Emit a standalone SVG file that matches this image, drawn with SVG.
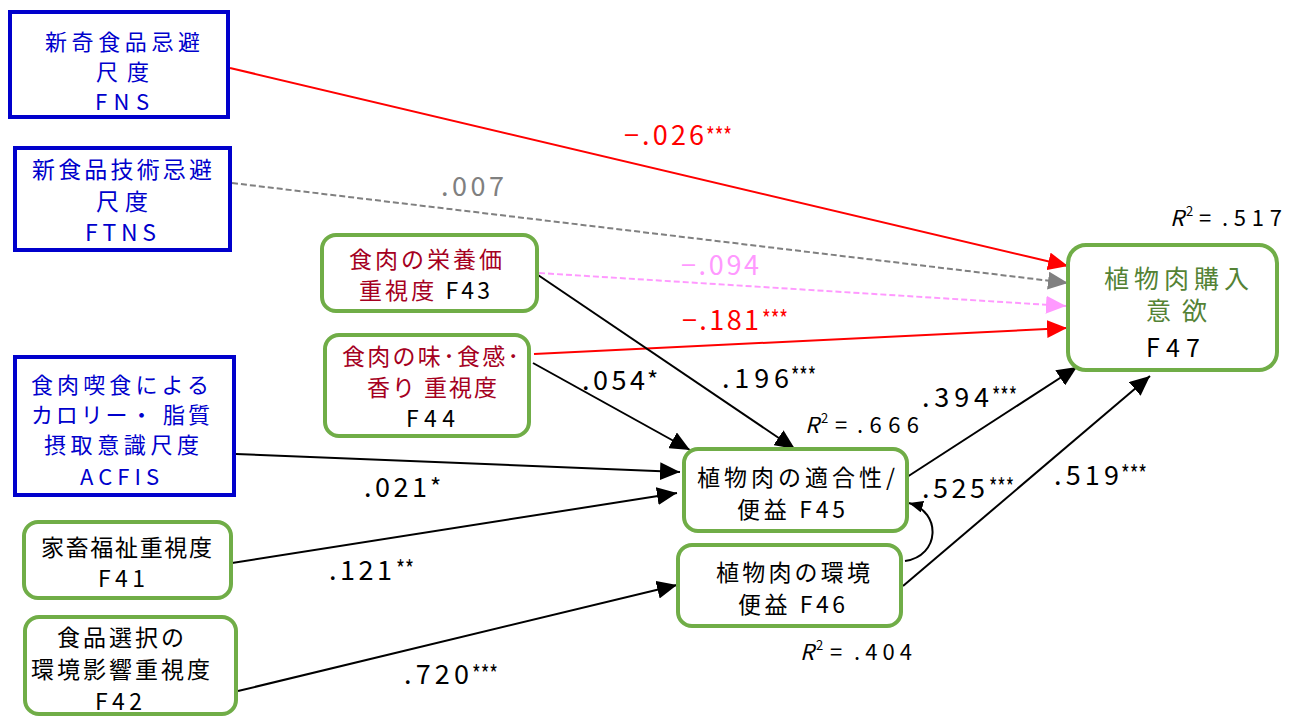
<svg xmlns="http://www.w3.org/2000/svg" width="1295" height="717" viewBox="0 0 1295 717">
<style>
text{font-family:"Noto Sans CJK JP","Noto Sans",sans-serif;}
.n{font-size:23px;}
.nb{font-size:22px;}
.big{font-size:25px;}
.blue{fill:#0000CC;}
.dred{fill:#A50021;}
.blk{fill:#000;}
.grn{fill:#548235;}
.bbox{fill:#fff;stroke:#0000CC;stroke-width:4;}
.gbox{fill:#fff;stroke:#70AD47;stroke-width:4;}
.lbl{font-size:27px;}
.ast{font-size:24px;}
.r2{font-size:22px;fill:#000;}
.sup{font-size:13px;fill:#000;}
.ln{fill:none;stroke:#000;stroke-width:2;}
.red{stroke:#FF0000;}
.gray{stroke:#808080;stroke-dasharray:6 3;}
.pink{stroke:#FF99FF;stroke-dasharray:6 3;}
</style>
<defs>
<marker id="ab" viewBox="0 0 20 18" refX="20" refY="9" markerWidth="20" markerHeight="18" markerUnits="userSpaceOnUse" orient="auto"><path d="M0,0 L20,9 L0,18 z" fill="#000"/></marker>
<marker id="ar" viewBox="0 0 20 18" refX="20" refY="9" markerWidth="20" markerHeight="18" markerUnits="userSpaceOnUse" orient="auto"><path d="M0,0 L20,9 L0,18 z" fill="#FF0000"/></marker>
<marker id="ag" viewBox="0 0 20 18" refX="20" refY="9" markerWidth="20" markerHeight="18" markerUnits="userSpaceOnUse" orient="auto"><path d="M0,0 L20,9 L0,18 z" fill="#808080"/></marker>
<marker id="ap" viewBox="0 0 20 18" refX="20" refY="9" markerWidth="20" markerHeight="18" markerUnits="userSpaceOnUse" orient="auto"><path d="M0,0 L20,9 L0,18 z" fill="#FF99FF"/></marker>
<marker id="as" viewBox="0 0 14 12" refX="14" refY="6" markerWidth="14" markerHeight="12" markerUnits="userSpaceOnUse" orient="auto"><path d="M0,0 L14,6 L0,12 z" fill="#000"/></marker>
</defs>

<g id="connectors">
<path class="ln red" d="M230,68 L1068,266" marker-end="url(#ar)"/>
<path class="ln gray" d="M232,183 L1068,283" marker-end="url(#ag)"/>
<path class="ln pink" d="M539,273 L1066,306" marker-end="url(#ap)"/>
<path class="ln red" d="M534,354 L1067,328" marker-end="url(#ar)"/>
<path class="ln" d="M538,275 L795,449" marker-end="url(#ab)"/>
<path class="ln" d="M533,363 L690,450" marker-end="url(#ab)"/>
<path class="ln" d="M236,454 L680,472" marker-end="url(#ab)"/>
<path class="ln" d="M232,563 L677,493" marker-end="url(#ab)"/>
<path class="ln" d="M238,691 L677,585" marker-end="url(#ab)"/>
<path class="ln" d="M907,477 L1077,367" marker-end="url(#ab)"/>
<path class="ln" d="M903,586 L1150,376" marker-end="url(#ab)"/>
<path class="ln" d="M905,561 C940,556 942,512 909,503" marker-end="url(#as)"/>
</g>

<g id="labels">
<text class="lbl" fill="#FF0000" x="624" y="145" textLength="80" lengthAdjust="spacing">−.026</text>
<text class="ast" fill="#FF0000" x="706" y="145" textLength="26" lengthAdjust="spacingAndGlyphs">***</text>
<text class="lbl" fill="#808080" x="441" y="196" textLength="63" lengthAdjust="spacing">.007</text>
<text class="lbl" fill="#FF99FF" x="681" y="275" textLength="78" lengthAdjust="spacing">−.094</text>
<text class="lbl" fill="#FF0000" x="682" y="330" textLength="77" lengthAdjust="spacing">−.181</text>
<text class="ast" fill="#FF0000" x="762" y="328" textLength="26" lengthAdjust="spacingAndGlyphs">***</text>
<text class="lbl blk" x="582" y="390" textLength="63" lengthAdjust="spacing">.054</text>
<text class="ast blk" x="647" y="389">*</text>
<text class="lbl blk" x="722" y="388" textLength="67" lengthAdjust="spacing">.196</text>
<text class="ast blk" x="791" y="385" textLength="25" lengthAdjust="spacingAndGlyphs">***</text>
<text class="lbl blk" x="922" y="407" textLength="67" lengthAdjust="spacing">.394</text>
<text class="ast blk" x="992" y="405" textLength="25" lengthAdjust="spacingAndGlyphs">***</text>
<text class="lbl blk" x="922" y="498" textLength="63" lengthAdjust="spacing">.525</text>
<text class="ast blk" x="989" y="496" textLength="25" lengthAdjust="spacingAndGlyphs">***</text>
<text class="lbl blk" x="1054" y="485" textLength="65" lengthAdjust="spacing">.519</text>
<text class="ast blk" x="1121" y="483" textLength="26" lengthAdjust="spacingAndGlyphs">***</text>
<text class="lbl blk" x="364" y="497" textLength="63" lengthAdjust="spacing">.021</text>
<text class="ast blk" x="430" y="496">*</text>
<text class="lbl blk" x="329" y="580" textLength="63" lengthAdjust="spacing">.121</text>
<text class="ast blk" x="396" y="578" textLength="18" lengthAdjust="spacingAndGlyphs">**</text>
<text class="lbl blk" x="404" y="684" textLength="65" lengthAdjust="spacing">.720</text>
<text class="ast blk" x="472" y="683" textLength="26" lengthAdjust="spacingAndGlyphs">***</text>
<text class="r2" x="805" y="433" font-style="italic">R</text>
<text class="sup" x="821" y="423">2</text>
<text class="r2" x="835" y="433">=</text>
<text class="r2" x="857" y="433" textLength="62" lengthAdjust="spacing">.666</text>
<text class="r2" x="1170" y="226" font-style="italic">R</text>
<text class="sup" x="1186" y="216">2</text>
<text class="r2" x="1199" y="226">=</text>
<text class="r2" x="1222" y="226" textLength="60" lengthAdjust="spacing">.517</text>
<text class="r2" x="800" y="660" font-style="italic">R</text>
<text class="sup" x="816" y="650">2</text>
<text class="r2" x="830" y="660">=</text>
<text class="r2" x="854" y="660" textLength="58" lengthAdjust="spacing">.404</text>
</g>

<g id="FNS">
<rect class="bbox" x="10" y="12" width="218" height="105"/>
<text class="nb blue" x="45" y="50" textLength="155" lengthAdjust="spacing">新奇食品忌避</text>
<text class="nb blue" x="96" y="80" textLength="53" lengthAdjust="spacing">尺度</text>
<text class="nb blue" x="95" y="110" textLength="54" lengthAdjust="spacing">FNS</text>
</g>

<g id="FTNS">
<rect class="bbox" x="15" y="148" width="215" height="102"/>
<text class="n blue" x="32" y="178" textLength="180" lengthAdjust="spacing">新食品技術忌避</text>
<text class="n blue" x="96" y="210" textLength="52" lengthAdjust="spacing">尺度</text>
<text class="n blue" x="85" y="241" textLength="71" lengthAdjust="spacing">FTNS</text>
</g>

<g id="ACFIS">
<rect class="bbox" x="15" y="357" width="219" height="138"/>
<text class="nb blue" x="31" y="393" textLength="178" lengthAdjust="spacing">食肉喫食による</text>
<text class="nb blue" x="31" y="423" textLength="179" lengthAdjust="spacing">カロリー・ 脂質</text>
<text class="nb blue" x="44" y="453" textLength="155" lengthAdjust="spacing">摂取意識尺度</text>
<text class="nb blue" x="80" y="485" textLength="79" lengthAdjust="spacing">ACFIS</text>
</g>

<g id="F41">
<rect class="gbox" x="24" y="522" width="207" height="76" rx="14"/>
<text class="n blk" x="41" y="556" textLength="171" lengthAdjust="spacing">家畜福祉重視度</text>
<text class="n blk" x="98" y="587" textLength="47" lengthAdjust="spacing">F41</text>
</g>

<g id="F42">
<rect class="gbox" x="25" y="617" width="211" height="97" rx="14"/>
<text class="n blk" x="57" y="646" textLength="127" lengthAdjust="spacing">食品選択の</text>
<text class="n blk" x="31" y="678" textLength="179" lengthAdjust="spacing">環境影響重視度</text>
<text class="n blk" x="95" y="710" textLength="47" lengthAdjust="spacing">F42</text>
</g>

<g id="F43">
<rect class="gbox" x="322" y="235" width="215" height="76" rx="14"/>
<text class="n dred" x="349" y="268" textLength="153" lengthAdjust="spacing">食肉の栄養価</text>
<text class="n dred" x="359" y="299" textLength="131" lengthAdjust="spacing">重視度 <tspan class="blk">F43</tspan></text>
</g>

<g id="F44">
<rect class="gbox" x="325" y="335" width="204" height="101" rx="14"/>
<text class="n dred" x="342" y="365" textLength="177" lengthAdjust="spacing">食肉の味･食感･</text>
<text class="n dred" x="367" y="396" textLength="130" lengthAdjust="spacing">香り 重視度</text>
<text class="n blk" x="406" y="427" textLength="49" lengthAdjust="spacing">F44</text>
</g>

<g id="F45">
<rect class="gbox" x="684" y="449" width="223" height="82" rx="14"/>
<text class="n blk" x="697" y="486" textLength="198" lengthAdjust="spacing">植物肉の適合性/</text>
<text class="n blk" x="737" y="518" textLength="108" lengthAdjust="spacing">便益 F45</text>
</g>

<g id="F46">
<rect class="gbox" x="678" y="545" width="223" height="81" rx="14"/>
<text class="n blk" x="716" y="581" textLength="154" lengthAdjust="spacing">植物肉の環境</text>
<text class="n blk" x="738" y="613" textLength="107" lengthAdjust="spacing">便益 F46</text>
</g>

<g id="F47">
<rect class="gbox" x="1068" y="245" width="209" height="125" rx="18"/>
<text class="big grn" x="1104" y="288" textLength="145" lengthAdjust="spacing">植物肉購入</text>
<text class="big grn" x="1146" y="320" textLength="61" lengthAdjust="spacing">意欲</text>
<text class="big blk" x="1146" y="357" textLength="54" lengthAdjust="spacing">F47</text>
</g>
</svg>
